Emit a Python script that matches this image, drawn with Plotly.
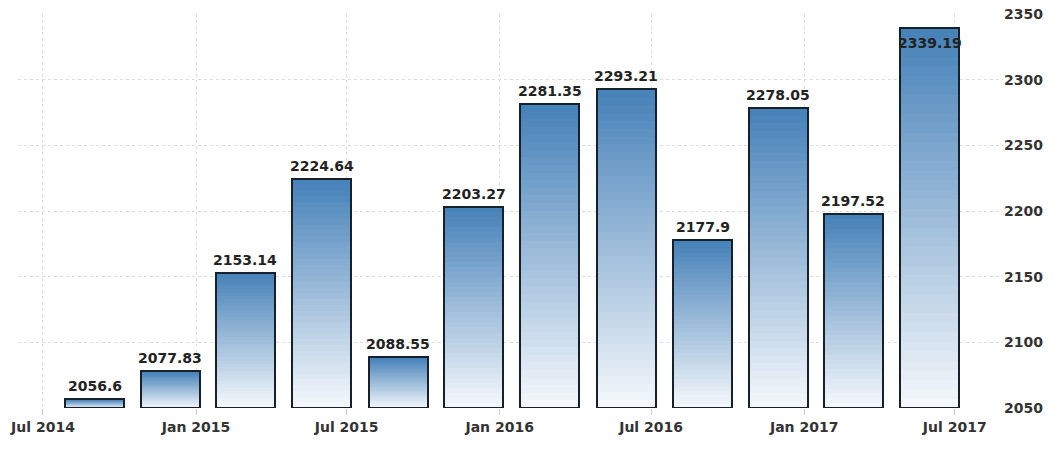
import plotly.graph_objects as go

# ---- data ----
dates = ["2014-09-01", "2014-12-01", "2015-03-01", "2015-06-01",
         "2015-09-01", "2015-12-01", "2016-03-01", "2016-06-01",
         "2016-09-01", "2016-12-01", "2017-03-01", "2017-06-01"]
values = [2056.6, 2077.83, 2153.14, 2224.64, 2088.55, 2203.27,
          2281.35, 2293.21, 2177.9, 2278.05, 2197.52, 2339.19]
labels = ["2056.6", "2077.83", "2153.14", "2224.64", "2088.55", "2203.27",
          "2281.35", "2293.21", "2177.9", "2278.05", "2197.52", "2339.19"]
tick_vals = ["2014-07-01", "2015-01-01", "2015-07-01", "2016-01-01",
             "2016-07-01", "2017-01-01", "2017-07-01"]
tick_text = ["Jul 2014", "Jan 2015", "Jul 2015", "Jan 2016",
             "Jul 2016", "Jan 2017", "Jul 2017"]
y_ticks = [2050, 2100, 2150, 2200, 2250, 2300, 2350]
y_min, y_max = 2050, 2350

# ---- style ----
top_rgb = (69, 128, 184)
bot_rgb = (246, 249, 252)
n_seg = 40
bar_w = 71 * 86400000
font_fam = "DejaVu Sans"

fig = go.Figure()

# gradient fill: stack thin slices from each bar's base to its value
for k in range(n_seg):
    t = (k + 0.5) / n_seg
    r = round(bot_rgb[0] + (top_rgb[0] - bot_rgb[0]) * t)
    g = round(bot_rgb[1] + (top_rgb[1] - bot_rgb[1]) * t)
    b = round(bot_rgb[2] + (top_rgb[2] - bot_rgb[2]) * t)
    bases = [y_min + (v - y_min) * k / n_seg for v in values]
    heights = [(v - y_min) / n_seg * 1.02 if k < n_seg - 1 else (v - y_min) / n_seg for v in values]
    fig.add_trace(go.Bar(
        x=dates, y=heights, base=bases, width=bar_w,
        marker=dict(color=f"rgb({r},{g},{b})", line=dict(width=0)),
        hoverinfo="skip", showlegend=False,
    ))

# outline
fig.add_trace(go.Bar(
    x=dates, y=[v - y_min for v in values], base=y_min, width=bar_w,
    marker=dict(color="rgba(0,0,0,0)", line=dict(color="#16212c", width=2)),
    showlegend=False,
))

# value labels
for d, v, lab in zip(dates, values, labels):
    inside = (y_max - v) < 20
    fig.add_annotation(
        x=d, y=v, text=lab, showarrow=False,
        yanchor="top" if inside else "bottom",
        yshift=-5 if inside else 3,
        font=dict(family=font_fam, size=14, color="#222222", weight="bold"),
    )

fig.update_layout(
    width=1061, height=450,
    margin=dict(l=18, r=58, t=14, b=42),
    paper_bgcolor="white", plot_bgcolor="white",
    barmode="overlay", bargap=0,
    xaxis=dict(
        type="date", range=["2014-06-01", "2017-08-28"],
        tickvals=tick_vals, ticktext=tick_text, automargin=False,
        showgrid=True, gridcolor="#dcdcdc", griddash="dot", gridwidth=1,
        ticks="outside", ticklen=6, tickcolor="#cccccc",
        showline=False, zeroline=False,
        tickfont=dict(family=font_fam, size=14, color="#333333", weight="bold"),
    ),
    yaxis=dict(
        side="right", range=[y_min, y_max],
        tickvals=y_ticks, automargin=False,
        showgrid=True, gridcolor="#dcdcdc", griddash="dot", gridwidth=1,
        zeroline=False, showline=False, ticks="",
        tickfont=dict(family=font_fam, size=14, color="#333333", weight="bold"),
    ),
)

fig.write_html(
    "out.html",
    config={"displayModeBar": False},
    post_script="document.body.style.margin='0';document.body.style.overflow='hidden';",
)
